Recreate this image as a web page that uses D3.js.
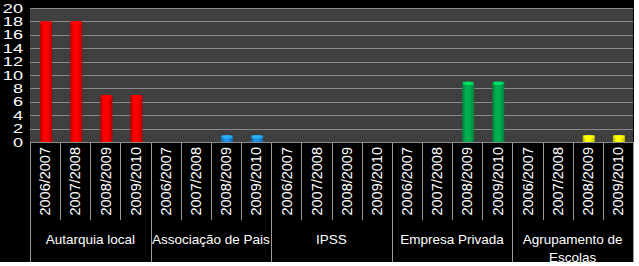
<!DOCTYPE html>
<html><head><meta charset="utf-8">
<script src="https://cdn.jsdelivr.net/npm/d3@7"></script>
<style>html,body{margin:0;padding:0;background:#fff;}svg{display:block;}</style>
</head><body>
<script>
const groups = ["Autarquia local", "Associação de Pais", "IPSS", "Empresa Privada", "Agrupamento de Escolas"];
const years = ["2006/2007", "2007/2008", "2008/2009", "2009/2010"];
const autarquiaLocal = [18, 18, 7, 7];
const associacaoDePais = [0, 0, 1, 1];
const ipss = [0, 0, 0, 0];
const empresaPrivada = [0, 0, 9, 9];
const agrupamentoDeEscolas = [0, 0, 1, 1];
const groupColors = ["#ff0000", "#1f8fe6", "#888888", "#00b050", "#ffff00"];
const yTicks = [0, 2, 4, 6, 8, 10, 12, 14, 16, 18, 20];

(function () {
const seriesByGroup = [autarquiaLocal, associacaoDePais, ipss, empresaPrivada, agrupamentoDeEscolas];

const W = 639, H = 266;
const frameW = 634, frameH = 262;
const pL = 30, pR = 633, pT = 8, pB = 142;
const FONT = "Liberation Sans, Arial, sans-serif";

const svg = d3.select("body").append("svg").attr("width", W).attr("height", H);
const defs = svg.append("defs");
defs.append("clipPath").attr("id", "frame").append("rect")
  .attr("x", 0).attr("y", 0).attr("width", frameW).attr("height", frameH);

svg.append("rect").attr("width", W).attr("height", H).attr("fill", "#ffffff");
const root = svg.append("g").attr("clip-path", "url(#frame)");
root.append("rect").attr("width", frameW).attr("height", frameH).attr("fill", "#000000");

const data = [];
groups.forEach((g, gi) => years.forEach((y, yi) => data.push({g, gi, y, yi, key: g + "|" + y, v: seriesByGroup[gi][yi]})));

const x = d3.scaleBand().domain(data.map(d => d.key)).range([pL, pR]).padding(0);
const xg = d3.scaleBand().domain(groups).range([pL, pR]).padding(0);
const yS = d3.scaleLinear().domain([0, 20]).range([pB, pT]);

root.append("rect").attr("x", pL).attr("y", pT).attr("width", pR - pL).attr("height", pB - pT).attr("fill", "#3f3f3f");

root.append("g").selectAll("line").data(yTicks.filter(t => t > 0)).join("line")
  .attr("x1", pL).attr("x2", pR)
  .attr("y1", d => Math.round(yS(d)) + 0.5).attr("y2", d => Math.round(yS(d)) + 0.5)
  .attr("stroke", "#8a8a8a").attr("stroke-width", 1.2);

// y labels: compact font, widened horizontally
const ya = root.append("g").attr("transform", `translate(23,0)`);
ya.selectAll("text").data(yTicks).join("text")
  .attr("transform", d => `translate(0,${yS(d)}) scale(1.45,1)`)
  .attr("text-anchor", "end").attr("dy", "0.36em")
  .attr("fill", "#ffffff").attr("font-family", FONT).attr("font-size", 12.5)
  .text(d => d);

const shade = (c, k) => d3.color(c).darker(k).formatHex();
groupColors.forEach((c, i) => {
  const gr = defs.append("linearGradient").attr("id", "bar" + i).attr("x1", "0").attr("x2", "1").attr("y1", "0").attr("y2", "0");
  gr.append("stop").attr("offset", "0%").attr("stop-color", shade(c, 1.0));
  gr.append("stop").attr("offset", "30%").attr("stop-color", c);
  gr.append("stop").attr("offset", "60%").attr("stop-color", c);
  gr.append("stop").attr("offset", "100%").attr("stop-color", shade(c, 0.9));
});

const bw = x.bandwidth() * 0.4;
const bars = root.append("g").selectAll("g").data(data.filter(d => d.v > 0)).join("g");
bars.append("rect")
  .attr("x", d => x(d.key) + x.bandwidth() / 2 - bw / 2 + 1)
  .attr("y", d => yS(d.v))
  .attr("width", bw)
  .attr("height", d => yS(0) - yS(d.v))
  .attr("fill", d => `url(#bar${d.gi})`);
bars.append("ellipse")
  .attr("cx", d => x(d.key) + x.bandwidth() / 2 + 1)
  .attr("cy", d => yS(d.v) + 1.5)
  .attr("rx", bw / 2 - 0.5)
  .attr("ry", 1.8)
  .attr("fill", d => d3.color(groupColors[d.gi]).brighter(0.8).formatHex())
  .attr("opacity", 0.8);

root.append("line").attr("x1", pL).attr("x2", pR).attr("y1", pB + 0.5).attr("y2", pB + 0.5)
  .attr("stroke", "#8a8a8a").attr("stroke-width", 1);

const bounds = x.domain().map(k => x(k)).concat([pR]);
root.append("g").selectAll("line").data(bounds).join("line")
  .attr("x1", d => Math.round(d) + 0.5).attr("x2", d => Math.round(d) + 0.5)
  .attr("y1", pB)
  .attr("y2", (d, i) => (i % 4 === 0) ? frameH : 220)
  .attr("stroke", "#9a9a9a").attr("stroke-width", 1);

root.append("g").selectAll("text").data(data).join("text")
  .attr("transform", d => `translate(${x(d.key) + x.bandwidth() / 2},147) rotate(-90)`)
  .attr("text-anchor", "end").attr("dy", "0.36em")
  .attr("fill", "#ffffff").attr("font-family", FONT).attr("font-size", 14.5)
  .text(d => d.y);

const gl = root.append("g").selectAll("text").data(groups).join("text")
  .attr("x", d => xg(d) + xg.bandwidth() / 2).attr("y", 244)
  .attr("text-anchor", "middle")
  .attr("fill", "#ffffff").attr("font-family", FONT).attr("font-size", 13.5);
gl.each(function(d) {
  const t = d3.select(this);
  const words = d.split(" ");
  const maxW = xg.bandwidth() - 2;
  let line = [], lines = [];
  const probe = t.append("tspan");
  words.forEach(w => {
    const test = line.concat([w]).join(" ");
    probe.text(test);
    if (probe.node().getComputedTextLength() > maxW && line.length) {
      lines.push(line.join(" ")); line = [w];
    } else line.push(w);
  });
  lines.push(line.join(" "));
  probe.remove();
  lines.forEach((l, i) => t.append("tspan").attr("x", xg(d) + xg.bandwidth() / 2).attr("dy", i === 0 ? 0 : 18).text(l));
});
})();
</script>
</body></html>
